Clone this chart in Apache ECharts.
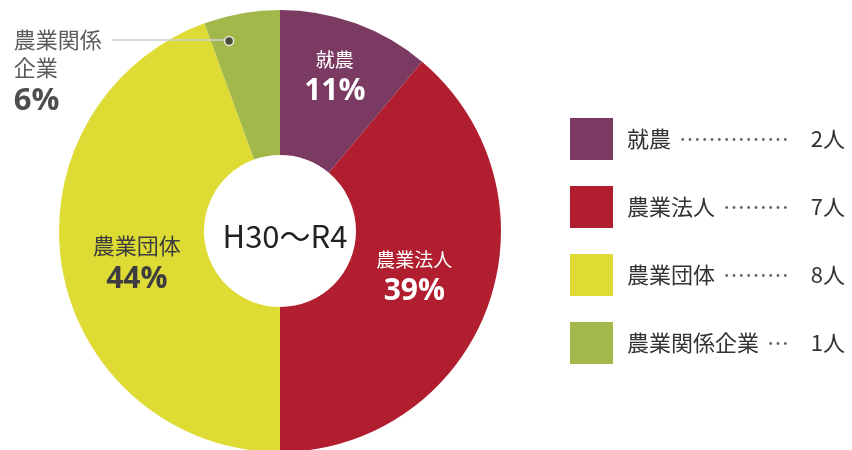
<!DOCTYPE html>
<html>
<head>
<meta charset="utf-8">
<script src="https://cdn.jsdelivr.net/npm/echarts@6/dist/echarts.min.js"></script>
<style>
html,body{margin:0;padding:0;background:#fff;}
#main{width:852px;height:450px;}
</style>
</head>
<body>
<div id="main"></div>
<script>
// 就農者の内訳 H30〜R4
var names = ['就農', '農業法人', '農業団体', '農業関係企業'];
var counts = [2, 7, 8, 1];
var colors = ['#7b3a61', '#b01e2f', '#dedb35', '#a3b84b'];
var leaders = ['……………', '………', '………', '…'];
var centerText = 'H30〜R4';
var unit = '人';

var total = 0;
for (var i = 0; i < counts.length; i++) total += counts[i];
var cum = 0;
for (var i = 0; i < counts.length - 1; i++) cum += counts[i];
var lastPct = Math.round(counts[counts.length - 1] / total * 100);

var cx = 280, cy = 231, R = 221, r0 = 76;
var font = '"Noto Sans CJK JP", sans-serif';
var numFont = '"Open Sans", "Noto Sans", sans-serif';
// small nudges so labels sit like the original
var labelOffsets = [[3, -12], [-8, -6], [6, 5]];

var pieData = [];
for (var i = 0; i < names.length; i++) {
    var item = {name: names[i], value: counts[i], itemStyle: {color: colors[i]}};
    if (i < 3) item.label = {offset: labelOffsets[i]};
    if (i == 2) {
        item.label.rich = {
            n: {fontFamily: font, fontSize: 22, color: '#3d3d40', lineHeight: 34},
            p: {fontFamily: numFont, fontWeight: 'bold', fontSize: 30, color: '#3d3d40', lineHeight: 34}
        };
    }
    if (i == names.length - 1) item.label = {show: false};
    pieData.push(item);
}

var myChart = echarts.init(document.getElementById('main'));
myChart.setOption({
    animation: false,
    title: {
        text: centerText,
        left: cx, top: cy,
        textAlign: 'center', textVerticalAlign: 'middle',
        textStyle: {fontFamily: font, fontSize: 31, fontWeight: 'normal', color: '#222'}
    },
    legend: {
        orient: 'vertical',
        left: 570, top: 118,
        padding: 0,
        itemWidth: 43, itemHeight: 42, itemGap: 26,
        icon: 'rect',
        data: names,
        formatter: function (name) {
            var idx = names.indexOf(name);
            return '{n|' + name + '}{d|' + leaders[idx] + '}{v|' + counts[idx] + unit + '}';
        },
        textStyle: {
            width: 218,
            padding: [0, 0, 0, 9],
            rich: {
                n: {fontFamily: font, fontSize: 22, color: '#333', align: 'left'},
                d: {fontFamily: font, fontSize: 22, color: '#666', align: 'left', padding: [0, 0, 0, 8]},
                v: {fontFamily: font, fontSize: 22, color: '#333', align: 'right'}
            }
        }
    },
    polar: {center: [cx, cy], radius: R},
    angleAxis: {type: 'value', min: 0, max: total, startAngle: 90, clockwise: true, show: false},
    radiusAxis: {type: 'value', min: 0, max: 1, show: false},
    series: [
        {
            type: 'pie',
            center: [cx, cy],
            radius: [r0, R],
            startAngle: 90,
            clockwise: true,
            percentPrecision: 0,
            silent: true,
            label: {
                position: 'inside',
                formatter: '{n|{b}}\n{p|{d}%}',
                rich: {
                    n: {fontFamily: font, fontSize: 19, color: '#fff', lineHeight: 30},
                    p: {fontFamily: numFont, fontWeight: 'bold', fontSize: 30, color: '#fff', lineHeight: 34}
                }
            },
            labelLine: {show: false},
            data: pieData
        },
        {
            type: 'scatter',
            coordinateSystem: 'polar',
            symbol: 'circle',
            symbolSize: 9,
            silent: true,
            itemStyle: {color: '#333', borderColor: '#fff', borderWidth: 1.5},
            label: {
                show: true,
                position: 'left',
                distance: 0,
                verticalAlign: 'top',
                offset: [0, -15],
                formatter: '{a|農業関係}{s| }{ln| }\n{a|企業}\n{p|' + lastPct + '%}',
                rich: {
                    a: {fontFamily: font, fontSize: 22, color: '#333', lineHeight: 28, align: 'left'},
                    s: {width: 10, align: 'left'},
                    ln: {width: 112, height: 2, backgroundColor: '#cfcfcf', align: 'left'},
                    p: {fontFamily: numFont, fontWeight: 'bold', fontSize: 31, color: '#222', lineHeight: 38, align: 'left'}
                }
            },
            data: [[0.89, cum + counts[counts.length - 1] * 0.25]]
        }
    ]
});
</script>
</body>
</html>
